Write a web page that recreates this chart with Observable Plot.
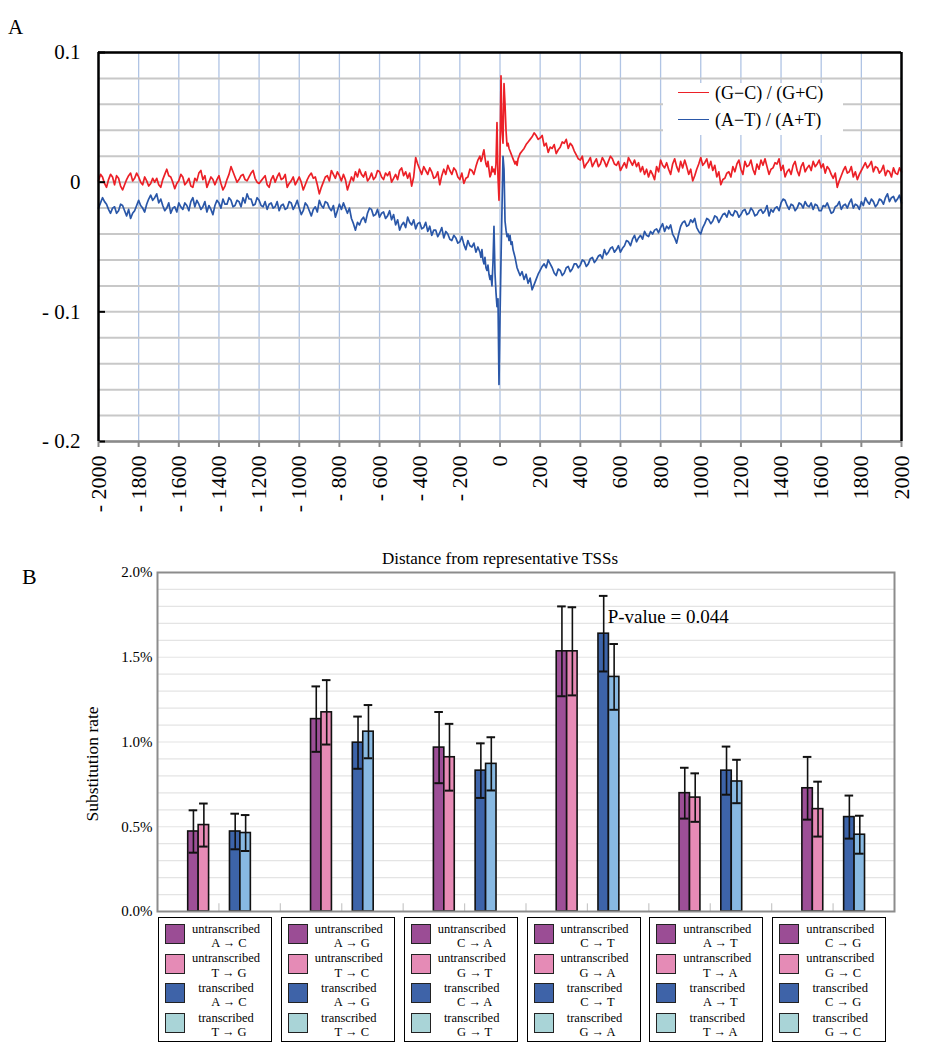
<!DOCTYPE html>
<html><head><meta charset="utf-8">
<script src="https://cdn.jsdelivr.net/npm/d3@7"></script>
<script src="https://cdn.jsdelivr.net/npm/@observablehq/plot@0.6"></script>
<style>
body{margin:0;background:#fff;font-family:"Liberation Serif","Times New Roman",serif;color:#000;}
#page{position:relative;width:932px;height:1050px;overflow:hidden;background:#fff;}
.abs{position:absolute;}
#page svg{position:absolute;left:0;}
</style></head><body><div id="page"></div>
<script>
// ---------------- Panel A data ----------------
const distance = [...d3.range(-2000, -100, 10), ...d3.range(-100, 100, 5), ...d3.range(100, 2001, 10)];
const gcSkew = [
 // -2000 .. -1010
 0.001,0.006,0.004,-0.001,-0.004,0.002,0.006,0.004,-0.002,0.005,0.003,-0.003,-0.006,-0.002,0.002,0.005,0.007,0.001,0.003,0.007,
 0.004,0.000,-0.002,0.004,0.001,-0.003,-0.001,0.003,0.000,0.003,-0.002,-0.004,0.002,0.006,0.010,0.005,0.004,0.000,-0.005,-0.001,
 0.001,0.006,0.004,-0.002,0.000,0.003,-0.003,-0.004,0.003,0.001,0.007,0.009,0.002,0.005,-0.004,0.000,0.004,0.002,-0.002,0.002,
 0.005,-0.001,-0.006,-0.003,0.002,0.006,0.012,0.008,0.004,0.000,0.002,0.005,0.006,0.002,0.001,0.004,0.007,0.009,0.003,0.000,
 -0.001,0.001,0.003,0.005,-0.002,-0.004,0.002,0.005,0.000,0.004,0.007,0.002,0.003,0.006,-0.004,-0.001,0.001,0.004,-0.002,0.001,
 // -1000 .. -110
 0.004,0.000,-0.006,-0.002,0.002,0.005,0.007,0.003,0.004,-0.002,-0.009,-0.004,0.000,0.004,0.005,0.001,0.009,0.006,0.003,0.008,
 0.005,0.001,0.006,0.002,-0.006,-0.001,0.004,0.001,0.008,0.004,0.010,0.006,0.004,0.008,0.001,0.003,0.007,0.002,0.004,0.009,
 0.008,0.004,0.002,0.007,0.005,0.008,0.000,0.003,0.006,0.002,0.009,0.011,0.005,0.008,0.003,0.007,-0.003,0.004,0.019,0.014,
 0.010,0.006,0.012,0.009,0.006,0.011,0.008,0.003,0.004,0.008,-0.002,0.005,0.010,0.006,0.013,0.009,0.006,0.011,0.009,0.004,
 0.002,0.007,-0.001,0.003,0.004,0.010,0.009,0.006,0.012,0.017,
 // -100 .. 95 (step 5)
 0.020,0.016,0.018,0.022,0.025,0.019,0.014,0.012,0.016,0.010,0.004,0.006,0.012,0.008,0.010,0.006,0.014,0.046,0.004,-0.014,
 0.020,0.082,0.040,0.030,0.076,0.060,0.040,0.028,0.030,0.026,0.024,0.022,0.020,0.018,0.016,0.014,0.016,0.013,0.018,0.020,
 // 100 .. 2000
 0.022,0.024,0.026,0.029,0.031,0.033,0.035,0.038,0.036,0.033,0.034,0.036,0.028,0.030,0.023,0.027,0.026,0.029,0.022,0.025,
 0.027,0.031,0.030,0.033,0.026,0.030,0.028,0.024,0.021,0.018,0.017,0.020,0.011,0.014,0.016,0.019,0.012,0.015,0.018,0.012,
 0.014,0.019,0.016,0.012,0.016,0.020,0.018,0.014,0.013,0.016,0.009,0.012,0.015,0.011,0.019,0.016,0.013,0.017,0.012,0.015,
 0.008,0.012,0.006,0.010,0.004,0.009,0.006,0.002,0.012,0.008,0.017,0.013,0.011,0.015,0.010,0.006,0.014,0.018,0.012,0.008,
 0.016,0.011,0.017,0.012,0.006,0.010,0.001,0.005,0.010,0.014,0.019,0.013,0.015,0.018,0.011,0.016,0.009,0.013,0.004,0.008,
 -0.002,0.002,0.003,0.007,0.008,0.004,0.012,0.008,0.014,0.017,0.010,0.006,0.016,0.012,0.013,0.017,0.010,0.006,0.014,0.010,
 0.017,0.013,0.018,0.012,0.006,0.010,0.011,0.015,0.014,0.018,0.009,0.013,0.004,0.008,0.010,0.006,0.013,0.016,0.009,0.005,
 0.012,0.015,0.008,0.011,0.013,0.009,0.016,0.012,0.014,0.017,0.011,0.014,0.007,0.012,0.010,0.006,0.003,0.007,-0.004,0.001,
 0.005,0.009,0.012,0.007,0.008,0.012,0.004,0.008,0.002,0.006,0.009,0.012,0.015,0.011,0.013,0.016,0.008,0.012,0.011,0.007,
 0.009,0.013,0.005,0.009,0.008,0.004,0.011,0.007,0.006,0.011,0.008
];
const atSkew = [
 // -2000 .. -1010
 -0.020,-0.016,-0.012,-0.015,-0.017,-0.021,-0.024,-0.020,-0.019,-0.024,-0.022,-0.017,-0.018,-0.022,-0.026,-0.021,-0.028,-0.024,-0.022,-0.018,
 -0.014,-0.018,-0.020,-0.023,-0.017,-0.013,-0.010,-0.014,-0.012,-0.009,-0.016,-0.013,-0.018,-0.022,-0.020,-0.016,-0.024,-0.020,-0.019,-0.023,
 -0.016,-0.019,-0.021,-0.016,-0.018,-0.022,-0.015,-0.012,-0.019,-0.014,-0.017,-0.021,-0.019,-0.015,-0.023,-0.018,-0.021,-0.025,-0.018,-0.014,
 -0.016,-0.020,-0.013,-0.017,-0.017,-0.012,-0.014,-0.019,-0.018,-0.014,-0.015,-0.019,-0.012,-0.016,-0.009,-0.013,-0.013,-0.018,-0.017,-0.012,
 -0.014,-0.018,-0.019,-0.015,-0.021,-0.017,-0.016,-0.020,-0.019,-0.015,-0.022,-0.018,-0.017,-0.021,-0.020,-0.015,-0.016,-0.021,-0.018,-0.014,
 // -1000 .. -110
 -0.020,-0.025,-0.022,-0.016,-0.018,-0.022,-0.026,-0.021,-0.019,-0.023,-0.014,-0.018,-0.020,-0.015,-0.016,-0.020,-0.022,-0.018,-0.027,-0.022,
 -0.017,-0.021,-0.016,-0.020,-0.024,-0.020,-0.028,-0.032,-0.037,-0.031,-0.033,-0.029,-0.027,-0.031,-0.024,-0.020,-0.021,-0.026,-0.025,-0.021,
 -0.027,-0.024,-0.023,-0.028,-0.026,-0.022,-0.029,-0.025,-0.033,-0.029,-0.037,-0.033,-0.031,-0.035,-0.027,-0.031,-0.033,-0.029,-0.036,-0.032,
 -0.031,-0.036,-0.035,-0.031,-0.038,-0.034,-0.041,-0.037,-0.037,-0.042,-0.039,-0.035,-0.043,-0.038,-0.040,-0.044,-0.045,-0.041,-0.043,-0.047,
 -0.046,-0.042,-0.048,-0.052,-0.045,-0.049,-0.050,-0.047,-0.054,-0.050,
 // -100 .. 95 (step 5)
 -0.054,-0.058,-0.052,-0.060,-0.063,-0.058,-0.066,-0.068,-0.064,-0.071,-0.075,-0.072,-0.080,-0.062,-0.034,-0.070,-0.085,-0.096,-0.090,-0.156,
 -0.105,-0.060,-0.020,0.020,0.010,-0.030,-0.037,-0.042,-0.040,-0.045,-0.041,-0.048,-0.046,-0.052,-0.055,-0.058,-0.062,-0.066,-0.068,-0.070,
 // 100 .. 2000
 -0.072,-0.069,-0.075,-0.071,-0.078,-0.074,-0.083,-0.079,-0.075,-0.071,-0.068,-0.065,-0.063,-0.066,-0.060,-0.063,-0.066,-0.070,-0.072,-0.067,
 -0.068,-0.072,-0.070,-0.066,-0.065,-0.069,-0.067,-0.063,-0.063,-0.066,-0.064,-0.060,-0.061,-0.065,-0.063,-0.059,-0.058,-0.062,-0.060,-0.057,
 -0.056,-0.059,-0.052,-0.056,-0.054,-0.051,-0.050,-0.054,-0.052,-0.049,-0.054,-0.051,-0.049,-0.045,-0.046,-0.049,-0.044,-0.041,-0.046,-0.043,
 -0.041,-0.044,-0.038,-0.041,-0.042,-0.038,-0.040,-0.037,-0.036,-0.039,-0.035,-0.032,-0.038,-0.034,-0.036,-0.033,-0.040,-0.043,-0.047,-0.040,
 -0.034,-0.031,-0.030,-0.034,-0.033,-0.029,-0.031,-0.028,-0.035,-0.038,-0.040,-0.035,-0.032,-0.028,-0.029,-0.032,-0.030,-0.026,-0.027,-0.031,
 -0.028,-0.025,-0.024,-0.027,-0.022,-0.025,-0.026,-0.022,-0.023,-0.027,-0.025,-0.022,-0.021,-0.025,-0.024,-0.020,-0.022,-0.026,-0.025,-0.022,
 -0.021,-0.024,-0.022,-0.018,-0.026,-0.021,-0.023,-0.020,-0.019,-0.022,-0.016,-0.013,-0.014,-0.018,-0.021,-0.017,-0.018,-0.022,-0.020,-0.016,
 -0.017,-0.020,-0.015,-0.018,-0.019,-0.016,-0.021,-0.017,-0.018,-0.022,-0.022,-0.018,-0.019,-0.016,-0.020,-0.024,-0.023,-0.019,-0.018,-0.015,
 -0.021,-0.018,-0.017,-0.020,-0.016,-0.013,-0.020,-0.017,-0.018,-0.021,-0.015,-0.018,-0.012,-0.015,-0.017,-0.013,-0.015,-0.019,-0.017,-0.013,
 -0.014,-0.017,-0.012,-0.009,-0.015,-0.012,-0.011,-0.015,-0.013,-0.010,-0.016
];
const distanceTicks = d3.range(-2000, 2001, 200);
const skewTicks = [-0.2, -0.1, 0, 0.1];
const skewGrid = d3.range(-0.2, 0.1001, 0.02);
const seriesNamesA = ["(G\u2212C) / (G+C)", "(A\u2212T) / (A+T)"];
const xLabelA = "Distance from representative TSSs";

// ---------------- Panel B data ----------------
const firstMut = ["A \u2192 C", "A \u2192 G", "C \u2192 A", "C \u2192 T", "A \u2192 T", "C \u2192 G"];
const compMut  = ["T \u2192 G", "T \u2192 C", "G \u2192 T", "G \u2192 A", "T \u2192 A", "G \u2192 C"];
const untransFirst     = [0.472, 1.135, 0.967, 1.535, 0.698, 0.727];
const untransFirstErr  = [0.125, 0.193, 0.210, 0.265, 0.150, 0.185];
const untransComp      = [0.510, 1.175, 0.910, 1.535, 0.672, 0.604];
const untransCompErr   = [0.127, 0.190, 0.197, 0.260, 0.143, 0.162];
const transFirst       = [0.472, 0.996, 0.831, 1.639, 0.831, 0.557];
const transFirstErr    = [0.105, 0.154, 0.161, 0.223, 0.142, 0.127];
const transComp        = [0.463, 1.061, 0.871, 1.384, 0.767, 0.453];
const transCompErr     = [0.106, 0.157, 0.157, 0.194, 0.128, 0.112];
const rateTicks = [0, 0.5, 1.0, 1.5, 2.0];
const rateGrid = d3.range(0.1, 1.95, 0.1);
const pNote = {group: 3, rate: 1.74, label: "P-value = 0.044"};
const yLabelB = "Substitution rate";

// ---------------- styles ----------------
const serif = "Liberation Serif";
const barColors = ["#9d4f97", "#e78bb6", "#3d64a9", "#88b9e2"];
const legendColors = ["#9b4d95", "#e58bb6", "#3e63a8", "#a9d4d7"];
const fmt = d => d < 0 ? "- " + Math.abs(d) : String(d);

const page = document.getElementById("page");
function addDiv(style, text) {
  const d = document.createElement("div");
  d.className = "abs";
  Object.assign(d.style, style);
  if (text != null) d.textContent = text;
  page.appendChild(d);
  return d;
}

// ---------------- Panel A ----------------
const skewRows = distance.map((x, i) => ({x, gc: gcSkew[i], at: atSkew[i]}));
const chartA = Plot.plot({
  width: 932, height: 585,
  marginTop: 52, marginBottom: 144, marginLeft: 98, marginRight: 31,
  style: {fontFamily: serif, fontSize: "20px", color: "#000", background: "transparent", overflow: "visible"},
  x: {domain: [-2000, 2000]},
  y: {domain: [-0.2, 0.1]},
  marks: [
    Plot.ruleX(distanceTicks, {stroke: "#b0c4e4", strokeWidth: 1.3}),
    Plot.ruleY(skewGrid, {stroke: "#c8c8c8", strokeWidth: 2}),
    Plot.line(skewRows, {x: "x", y: "at", stroke: "#2a57a8", strokeWidth: 1.7}),
    Plot.line(skewRows, {x: "x", y: "gc", stroke: "#ec2027", strokeWidth: 1.7}),
    Plot.ruleY([-0.2], {stroke: "#8a8a8a", strokeWidth: 2.5}),
    Plot.ruleY([0.1], {stroke: "#000", strokeWidth: 2.5}),
    Plot.ruleX([-2000, 2000], {stroke: "#000", strokeWidth: 2.5}),
    Plot.ruleY(skewTicks, {x1: -2000, x2: -1965, stroke: "#000", strokeWidth: 2}),
    Plot.axisX({ticks: distanceTicks, tickSize: 6, tickPadding: 8, tickRotate: -90, stroke: "#8a8a8a", strokeWidth: 2, tickFormat: fmt, label: null, fontSize: 22}),
    Plot.axisY({ticks: skewTicks, tickSize: 0, tickPadding: 18, tickFormat: fmt, label: null, fontSize: 21}),
    Plot.text([xLabelA], {frameAnchor: "bottom", dy: 122, fontSize: 17})
  ]
});
chartA.style.top = "0px";
page.appendChild(chartA);

// Legend A (inside plot, HTML overlay)
addDiv({left: "663px", top: "83px", width: "180px", height: "52px", background: "#fff"});
[["#ec2027", 93], ["#2a57a8", 120]].forEach(([c, y], k) => {
  addDiv({left: "678px", top: (y - 1) + "px", width: "31px", height: "0", borderTop: "1.6px solid " + c});
  addDiv({left: "715px", top: (y - 11) + "px", fontSize: "18px", lineHeight: "22px", whiteSpace: "nowrap"}, seriesNamesA[k]);
});
addDiv({left: "8px", top: "15px", fontSize: "21px", lineHeight: "24px"}, "A");

// ---------------- Panel B ----------------
const barOffsets = [0.25, 0.335, 0.59, 0.675];
const barWidth = 0.085;
const cap = 0.035;
const seriesVals = [untransFirst, untransComp, transFirst, transComp];
const seriesErrs = [untransFirstErr, untransCompErr, transFirstErr, transCompErr];
const barRows = [];
firstMut.forEach((m, g) => {
  seriesVals.forEach((vals, s) => {
    const x1 = g + barOffsets[s];
    barRows.push({g, s, x1, x2: x1 + barWidth, xc: x1 + barWidth / 2, value: vals[g], err: seriesErrs[s][g], color: barColors[s]});
  });
});
const slotTicks = d3.range(0.5, 6, 0.5);

const chartB = Plot.plot({
  width: 932, height: 360,
  marginTop: 12, marginBottom: 9, marginLeft: 157, marginRight: 38,
  style: {fontFamily: serif, fontSize: "15px", color: "#000", background: "transparent", overflow: "visible"},
  x: {domain: [0, 6], axis: null},
  y: {domain: [0, 2]},
  marks: [
    Plot.ruleY(rateGrid, {stroke: "#e4e4e4", strokeWidth: 1.2}),
    Plot.ruleX(slotTicks, {y1: 0, y2: 0.045, stroke: "#c8c8c8", strokeWidth: 1.2}),
    Plot.rect(barRows, {x1: "x1", x2: "x2", y1: 0, y2: "value", fill: "color", stroke: "#111", strokeWidth: 1.6}),
    Plot.ruleX(barRows, {x: "xc", y1: d => d.value - d.err, y2: d => d.value + d.err, stroke: "#111", strokeWidth: 1.6}),
    Plot.ruleY(barRows, {y: d => d.value + d.err, x1: d => d.xc - cap, x2: d => d.xc + cap, stroke: "#111", strokeWidth: 2}),
    Plot.ruleY(barRows, {y: d => d.value - d.err, x1: d => d.xc - cap, x2: d => d.xc + cap, stroke: "#111", strokeWidth: 2}),
    Plot.frame({stroke: "#8c8c8c", strokeWidth: 2}),
    Plot.axisY({ticks: rateTicks, tickSize: 0, tickPadding: 5, tickFormat: d => d.toFixed(1) + "%", label: null, fontSize: 15}),
    Plot.text([pNote], {x: d => d.group + 0.665, y: "rate", text: "label", textAnchor: "start", fontSize: 19})
  ]
});
chartB.style.top = "560px";
page.appendChild(chartB);
addDiv({left: "22px", top: "564px", fontSize: "22px", lineHeight: "26px"}, "B");
// rotated y-axis title of panel B
addDiv({left: "92px", top: "764px", fontSize: "17.5px", lineHeight: "20px", whiteSpace: "nowrap", transform: "translate(-50%, -50%) rotate(-90deg)"}, yLabelB);

// Legend B boxes (HTML, below the plot)
const groupStep = 737 / 6;
firstMut.forEach((m, g) => {
  const left = 158 + g * groupStep;
  const box = addDiv({left: left + "px", top: "917px", width: "112px", height: "123px", border: "1.5px solid #000", background: "#fff"});
  const entries = [
    ["untranscribed", firstMut[g]], ["untranscribed", compMut[g]],
    ["transcribed", firstMut[g]], ["transcribed", compMut[g]]
  ];
  entries.forEach(([kind, mut], k) => {
    const top = 6 + k * 29.7;
    const sq = document.createElement("div");
    Object.assign(sq.style, {position: "absolute", left: "6px", top: top + "px", width: "18px", height: "18px", background: legendColors[k], border: "1.5px solid #222"});
    box.appendChild(sq);
    const t = document.createElement("div");
    Object.assign(t.style, {position: "absolute", left: "27px", top: (top - 2.5) + "px", width: "80px", textAlign: "center", fontSize: "12.5px", lineHeight: "14.5px", whiteSpace: "nowrap"});
    const l1 = document.createElement("div"); l1.textContent = kind;
    const l2 = document.createElement("div"); l2.textContent = mut; l2.style.paddingLeft = "6px";
    t.appendChild(l1); t.appendChild(l2);
    box.appendChild(t);
  });
});
if (gcSkew.length !== distance.length || atSkew.length !== distance.length) console.error("length mismatch", distance.length, gcSkew.length, atSkew.length);
</script></body></html>
